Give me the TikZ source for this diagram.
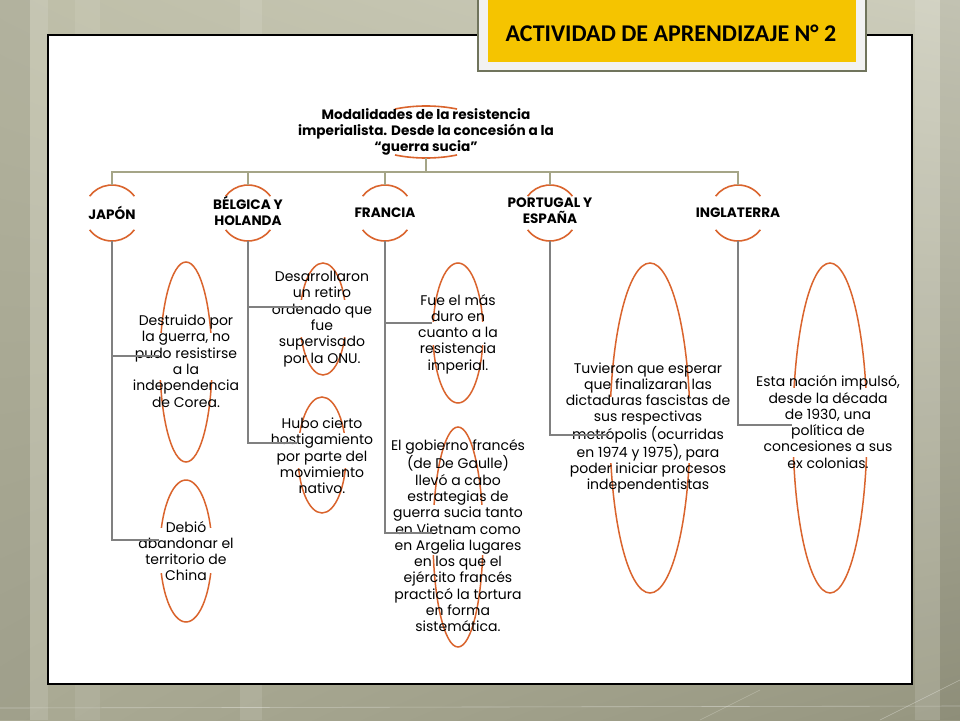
\documentclass[tikz,border=0pt]{standalone}
\usepackage{fontspec}
\setmainfont{Poppins}
\newfontfamily\titlefont{Carlito}
\usetikzlibrary{shapes.geometric,shadings}
\definecolor{bgA}{RGB}{190,190,168}
\definecolor{bgB}{RGB}{205,205,188}
\definecolor{bgC}{RGB}{170,170,148}
\definecolor{bgD}{RGB}{150,150,128}
\definecolor{orng}{RGB}{218,100,45}
\definecolor{olv}{RGB}{165,165,135}
\definecolor{gry}{RGB}{128,128,128}
\definecolor{ylw}{RGB}{245,196,0}
\definecolor{frm}{RGB}{242,242,242}
\definecolor{frmb}{RGB}{112,116,92}
\tikzset{
  tree/.style={draw=olv, line width=2pt},
  conn/.style={draw=gry, line width=2pt},
  arcsty/.style={draw=orng, line width=1.6pt},
  ellnode/.style={ellipse, draw=orng, line width=1.5pt, inner sep=0pt},
  hole/.style={fill=white, inner sep=0pt},
  ctry/.style={font=\bfseries\fontsize{13.6}{15.8}\selectfont, align=center, inner sep=0pt},
  body/.style={font=\fontsize{14}{16.3}\selectfont, align=center, inner sep=0pt},
  slot/.style={circle, minimum size=56pt, inner sep=0pt}
}
\begin{document}
\begin{tikzpicture}[x=1pt,y=-1pt]
\useasboundingbox (0,0) rectangle (960,720);
% background
\shade[upper left=bgA, upper right=bgB, lower left=bgC, lower right=bgD] (0,0) rectangle (960,720);
\fill[black, opacity=0.06] (0,0) rectangle (30,720);
\fill[white, opacity=0.12] (30,0) rectangle (48,720);
\fill[white, opacity=0.10] (240,0) rectangle (262,720);
\fill[white, opacity=0.08] (75,0) rectangle (100,720);
\fill[white, opacity=0.12] (915,0) rectangle (940,720);
\fill[black, opacity=0.05] (940,0) rectangle (960,720);
\draw[white, opacity=0.35, line width=0.6pt] (0,708) -- (960,706);
\draw[white, opacity=0.35, line width=0.6pt] (880,720) -- (960,680);
\draw[white, opacity=0.25, line width=0.6pt] (700,720) -- (760,690);
% white sheet
\filldraw[fill=white, draw=black, line width=1.5pt] (48,35) rectangle (912,684);
% title
\filldraw[fill=frm, draw=frmb, line width=2pt] (478,-5) rectangle (866,71);
\fill[ylw] (488,-5) rectangle (856,62);
\node[font=\titlefont\bfseries\fontsize{24}{27}\selectfont, inner sep=0pt] (title) at (671,33) {ACTIVIDAD DE APRENDIZAJE N° 2};
% root
\node[ellipse, minimum width=132pt, minimum height=52pt, inner sep=0pt] (rt) at (426,132) {};
\draw[arcsty] (rt.center) ++(62:66pt and 26pt) arc[start angle=62, end angle=118, x radius=66pt, y radius=26pt];
\draw[arcsty] (rt.center) ++(242:66pt and 26pt) arc[start angle=242, end angle=298, x radius=66pt, y radius=26pt];
\node[font=\bfseries\fontsize{13.6}{15.6}\selectfont, align=center, inner sep=0pt] (rtt) at (426,132) {Modalidades de la resistencia\\imperialista. Desde la concesión a la\\“guerra sucia”};
% country slots
\node[slot] (jp) at (112,213) {};
\node[slot] (bh) at (248,213) {};
\node[slot] (fr) at (385,213) {};
\node[slot] (pe) at (550,213) {};
\node[slot] (in) at (738,213) {};
\foreach \c in {jp,bh,fr,pe,in}{
  \draw[arcsty] (\c.center) ++(37:28pt) arc[start angle=37, end angle=143, radius=28pt];
  \draw[arcsty] (\c.center) ++(217:28pt) arc[start angle=217, end angle=323, radius=28pt];
}
\node[ctry] (jpt) at (112,213) {JAPÓN};
\node[ctry] (bht) at (248,211) {BÉLGICA Y\\HOLANDA};
\node[ctry] (frt) at (385,213) {FRANCIA};
\node[ctry] (pet) at (550,211) {PORTUGAL Y\\ESPAÑA};
\node[ctry] (int) at (738,213) {INGLATERRA};
% top tree
\coordinate (bar) at (426,172);
\draw[tree] (rt.south) -- (bar);
\draw[tree] (jp.north) |- (bar) -| (in.north);
\draw[tree] (bar -| bh) -- (bh.north);
\draw[tree] (bar -| fr) -- (fr.north);
\draw[tree] (bar -| pe) -- (pe.north);
% ellipses
\node[ellnode, minimum width=52pt, minimum height=200pt] (e1) at (186,362) {};
\node[ellnode, minimum width=52pt, minimum height=142pt] (e2) at (186,551) {};
\node[ellnode, minimum width=46pt, minimum height=112pt] (e3) at (323,319) {};
\node[ellnode, minimum width=48pt, minimum height=116pt] (e4) at (322,455) {};
\node[ellnode, minimum width=50pt, minimum height=140pt] (e5) at (458,333) {};
\node[ellnode, minimum width=50pt, minimum height=220pt] (e6) at (458,537) {};
\node[ellnode, minimum width=80pt, minimum height=330pt] (e7) at (650,428) {};
\node[ellnode, minimum width=74pt, minimum height=330pt] (e8) at (830,428) {};
% holes
\node[hole, minimum width=58pt, minimum height=47pt] (w1) at (186,356) {};
\node[hole, minimum width=58pt, minimum height=45pt] (w2) at (186,550) {};
\node[hole, minimum width=52pt, minimum height=37pt] (w3) at (323,318) {};
\node[hole, minimum width=54pt, minimum height=35pt] (w4) at (322,450) {};
\node[hole, minimum width=56pt, minimum height=23pt] (w5) at (458,333) {};
\node[hole, minimum width=56pt, minimum height=50pt] (w6) at (458,530) {};
\node[hole, minimum width=86pt, minimum height=66pt] (w7) at (650,430) {};
\node[hole, minimum width=80pt, minimum height=69pt] (w8) at (830,422) {};
% texts
\node[body] (t1) at (186,361) {Destruido por\\la guerra, no\\pudo resistirse\\a la\\independencia\\de Corea.};
\node[body] (t2) at (186,551) {Debió\\abandonar el\\territorio de\\China};
\node[body] (t3) at (322,319) {Desarrollaron\\un retiro\\ordenado que\\fue\\supervisado\\por la ONU.};
\node[body] (t4) at (322,456) {Hubo cierto\\hostigamiento\\por parte del\\movimiento\\nativo.};
\node[body] (t5) at (458,334) {Fue el más\\duro en\\cuanto a la\\resistencia\\imperial.};
\node[body] (t6) at (458,536) {El gobierno francés\\(de De Gaulle)\\llevó a cabo\\estrategias de\\guerra sucia tanto\\en Vietnam como\\en Argelia lugares\\en los que el\\ejército francés\\practicó la tortura\\en forma\\sistemática.};
\node[body] (t7) at (648,428) {Tuvieron que esperar\\que finalizaran las\\dictaduras fascistas de\\sus respectivas\\metrópolis (ocurridas\\en 1974 y 1975), para\\poder iniciar procesos\\independentistas};
\node[body] (t8) at (828,422) {Esta nación impulsó,\\desde la década\\de 1930, una\\política de\\concesiones a sus\\ex colonias.};
% connectors
\draw[conn] (jp.south) |- ([yshift=6pt]e1.west);
\draw[conn] (jp.south) |- ([yshift=11pt]e2.west);
\draw[conn] (bh.south) |- ([yshift=12pt]e3.west);
\draw[conn] (bh.south) |- ([yshift=12pt]e4.west);
\draw[conn] (fr.south) |- ([yshift=10pt]e5.west);
\draw[conn] (fr.south) |- ([yshift=4pt]e6.west);
\draw[conn] (pe.south) |- ([yshift=-7pt]e7.west);
\draw[conn] (in.south) |- ([yshift=3pt]e8.west);
\end{tikzpicture}
\end{document}
